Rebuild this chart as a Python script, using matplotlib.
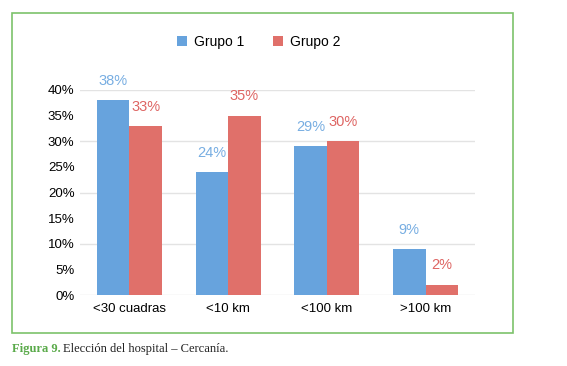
import matplotlib.pyplot as plt
import numpy as np
from matplotlib.patches import Rectangle

categories = ["<30 cuadras", "<10 km", "<100 km", ">100 km"]
grupo1 = [38, 24, 29, 9]
grupo2 = [33, 35, 30, 2]
yticks = [0, 5, 10, 15, 20, 25, 30, 35, 40]

BLUE = "#67a3dd"
RED = "#e0706a"
BLUE_TXT = "#78aee2"
RED_TXT = "#de6563"

plt.rcParams["font.family"] = ["Liberation Sans", "DejaVu Sans"]

fig = plt.figure(figsize=(5.67, 3.66), dpi=100)
ax = fig.add_axes([80 / 567, 1 - 295 / 366, 395 / 567, 205 / 366])

x = np.arange(len(categories))
w = 0.33
b1 = ax.bar(x - w / 2, grupo1, w, color=BLUE, label="Grupo 1", zorder=3)
b2 = ax.bar(x + w / 2, grupo2, w, color=RED, label="Grupo 2", zorder=3)

for rect, v in zip(b1, grupo1):
    ax.text(rect.get_x() + rect.get_width() / 2, v + 2.4, f"{v}%", ha="center",
            va="bottom", color=BLUE_TXT, fontsize=10.5, fontweight="medium", clip_on=False)
for rect, v in zip(b2, grupo2):
    ax.text(rect.get_x() + rect.get_width() / 2, v + 2.4, f"{v}%", ha="center",
            va="bottom", color=RED_TXT, fontsize=10.5, fontweight="medium", clip_on=False)

ax.set_xlim(-0.5, 3.5)
ax.set_ylim(0, 40)
ax.set_yticks(yticks)
ax.set_yticklabels([f"{t}%" for t in yticks], fontsize=9.5)
ax.set_xticks(x)
ax.set_xticklabels(categories, fontsize=9.5)
ax.tick_params(length=0, pad=6)
ax.tick_params(axis="y", pad=4)
for s in ax.spines.values():
    s.set_visible(False)
for g in [0, 10, 20, 30, 40]:
    ax.axhline(g, color="#e3e3e3", lw=1, zorder=1)

fig.legend(handles=[b1, b2], loc="center", bbox_to_anchor=(259 / 567, 1 - 42 / 366),
           ncol=2, frameon=False, fontsize=10, handlelength=0.7, handleheight=0.7,
           columnspacing=2.1, handletextpad=0.5)

# green frame round the chart
fig.patches.append(Rectangle((12 / 567, 1 - 333 / 366), 501 / 567, 320 / 366,
                             transform=fig.transFigure, fill=False,
                             edgecolor="#7dc26b", lw=1.2))

fig.text(12 / 567, 1 - 349 / 366, "Figura 9.", color="#5aaa4a", fontsize=9,
         fontweight="bold", family="Liberation Serif", va="center")
fig.text(63 / 567, 1 - 349 / 366, "Elección del hospital – Cercanía.", color="#222222",
         fontsize=9, family="Liberation Serif", va="center")

fig.savefig("out.png", dpi=100)
